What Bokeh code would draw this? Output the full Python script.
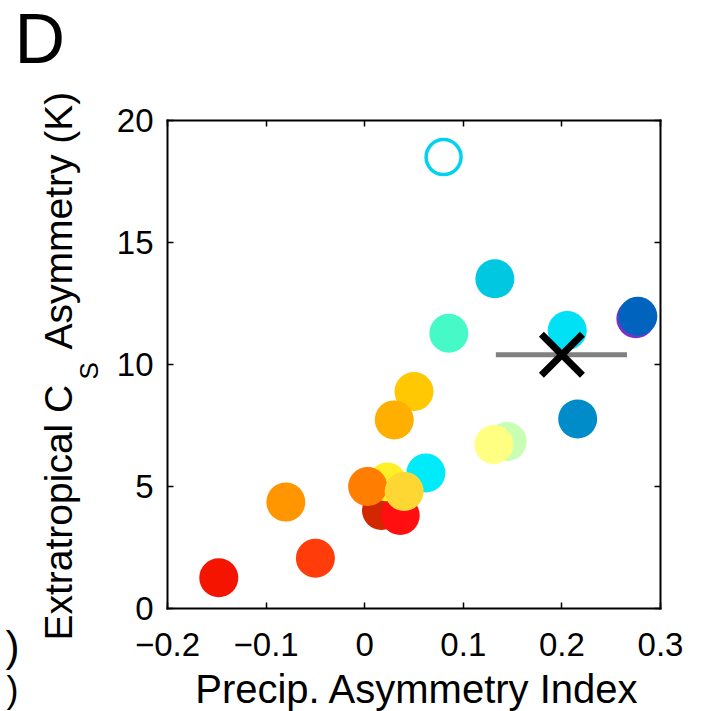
import math
from bokeh.plotting import figure
from bokeh.models import Label, LinearAxis, CustomJSTickFormatter, FixedTicker, Range1d
from bokeh.embed import file_html
from bokeh.resources import INLINE

# ---- data ----
x_ticks = [-0.2, -0.1, 0, 0.1, 0.2, 0.3]
y_ticks = [0, 5, 10, 15, 20]
x_lim = [-0.2, 0.3]
y_lim = [0, 20]

# model points, in drawing order (back to front)
px = [-0.148, -0.050, -0.080, 0.017, 0.023, 0.003, 0.036, 0.062, 0.040,
      0.050, 0.030, 0.1445, 0.131, 0.216, 0.0853, 0.2054, 0.132, 0.275, 0.277]
py = [1.26, 2.06, 4.36, 4.02, 5.18, 5.00, 3.81, 5.55, 4.80,
      8.89, 7.73, 6.84, 6.72, 7.77, 11.28, 11.39, 13.51, 11.88, 11.98]
pc = ["#f51400", "#ff3c0a", "#ff9600", "#d22800", "#fff028", "#ff7d00", "#ff0f0f",
      "#00ebfa", "#ffd732", "#ffc800", "#ffaf00", "#c8ffb4", "#ffff82", "#008cc8",
      "#46fac8", "#00e1f5", "#00c8e1", "#7832c8", "#0064be"]

# open-circle outlier
ox = [0.080]
oy = [18.5]

# observation with range
obs_x = [0.200]
obs_y = [10.40]
obs_lo = [0.133]
obs_hi = [0.266]

FONT = "Liberation Sans"
W, H = 702, 711
# plot box in canvas pixels
BL, BR, BT, BB = 167, 660, 120, 608
sx = (x_lim[1] - x_lim[0]) / (BR - BL)
sy = (y_lim[1] - y_lim[0]) / (BB - BT)
xr = Range1d(x_lim[0] - BL * sx, x_lim[1] + (W - BR) * sx)
yr = Range1d(y_lim[0] - (H - BB) * sy, y_lim[1] + BT * sy)

p = figure(width=W, height=H, min_border=0, output_backend="svg",
           toolbar_location=None, x_range=xr, y_range=yr,
           x_axis_location=None, y_axis_location=None)
p.background_fill_color = "white"
p.border_fill_color = "white"
p.outline_line_color = None
p.grid.visible = False


def make_axis(ticks, loc, bounds, labels=True, standoff=10):
    ax = LinearAxis(ticker=FixedTicker(ticks=ticks), fixed_location=loc,
                    bounds=tuple(bounds))
    ax.axis_line_width = 2
    ax.axis_line_color = "black"
    ax.axis_line_cap = "square"
    ax.major_tick_in = 6
    ax.major_tick_out = 0
    ax.major_tick_line_width = 1.5
    ax.minor_tick_line_color = None
    ax.major_label_text_font = FONT
    ax.major_label_text_font_size = "33px"
    ax.major_label_text_color = "black"
    ax.major_label_standoff = standoff
    if not labels:
        ax.formatter = CustomJSTickFormatter(code="return '';")
        ax.major_label_text_font_size = "1px"
    return ax


p.add_layout(make_axis(x_ticks, y_lim[0], x_lim, True, 24), "below")
p.add_layout(make_axis(y_ticks, x_lim[0], y_lim, True, 14), "left")
p.add_layout(make_axis(x_ticks, y_lim[1], x_lim, False), "above")
p.add_layout(make_axis(y_ticks, x_lim[1], y_lim, False), "right")

# data
p.scatter(px, py, size=39, fill_color=pc, line_color=None, marker="circle")
p.scatter(ox, oy, size=35, fill_color=None, line_color="#00d2f0",
          line_width=3.5, marker="circle")
p.segment(x0=obs_lo, y0=obs_y, x1=obs_hi, y1=obs_y, line_color="#808080", line_width=5)
p.scatter(obs_x, obs_y, size=58, marker="x", line_color="black", line_width=7)


# texts placed in canvas pixels (frame == canvas); cx, cy is the wanted baseline
# start point, corrected for the renderer's baseline offset (~0.36 em)
def lab(text, cx, cy, size, angle=0.0, align="left"):
    shift = 0.36 * size
    if angle:
        cx -= shift
    else:
        cy -= shift
    p.add_layout(Label(x=cx, y=H - cy, x_units="screen", y_units="screen",
                       text=text, angle=angle, text_align=align,
                       text_baseline="alphabetic", text_font=FONT,
                       text_font_size=f"{size}px", text_color="black"))


# y axis label with subscript
lab("Extratropical C", 72, 640, 39, angle=math.pi / 2)
lab("S", 98, 379, 26, angle=math.pi / 2)
lab("Asymmetry (K)", 72, 349, 39, angle=math.pi / 2)
# x axis label
lab("Precip. Asymmetry Index", 417, 703, 40, align="center")
# panel letter
lab("D", 14, 64, 70)
# fragments from a neighbouring panel
lab(")", 5, 661, 42)
lab(")", 6, 702, 36)

open("out.html", "w").write(file_html(p, INLINE))
